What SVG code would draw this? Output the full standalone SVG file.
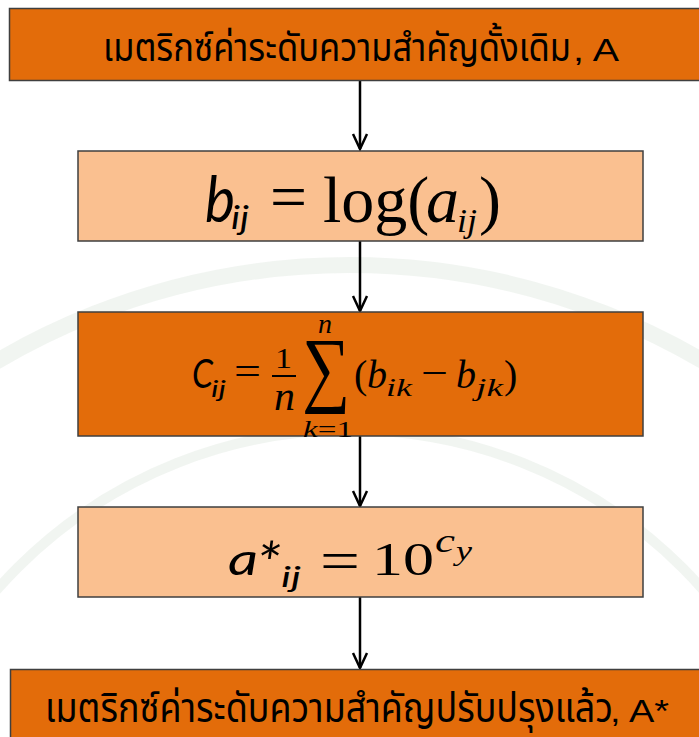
<svg xmlns="http://www.w3.org/2000/svg" width="699" height="737" viewBox="0 0 699 737">
<style>
.dark{fill:#E36C0A;stroke:#3F3F3F;stroke-width:1.5}
.light{fill:#FAC090;stroke:#3F3F3F;stroke-width:1.5}
.thai{font-family:"Noto Sans Thai","Noto Sans","DejaVu Sans",sans-serif;fill:#000}
.lat{font-family:"Liberation Sans",Arial,sans-serif;fill:#000}
.cal{font-family:Lato,"Open Sans",sans-serif;font-style:italic;fill:#000}
.ser{font-family:"Liberation Serif","DejaVu Serif",serif;fill:#000}
.it{font-style:italic}
.wm{fill:none;stroke:#EDF2ED;opacity:0.8}
.conn{stroke:#000;stroke-width:2.5;fill:none}
</style>
<defs>
<marker id="arr" markerUnits="userSpaceOnUse" viewBox="-20 -10 22 20" markerWidth="22" markerHeight="20" refX="0" refY="0" orient="auto">
<path d="M-15,-7 L0,0 L-15,7" fill="none" stroke="#000" stroke-width="2.5"/>
</marker>
</defs>
<rect width="699" height="737" fill="#fff"/>
<g id="watermark">
<circle class="wm" cx="350" cy="960" r="695" stroke-width="16"/>
<circle class="wm" cx="350" cy="900" r="470" stroke-width="10"/>
</g>
<g id="connectors">
<line class="conn" x1="360" y1="80" x2="360" y2="149" marker-end="url(#arr)"/>
<line class="conn" x1="360" y1="241" x2="360" y2="311" marker-end="url(#arr)"/>
<line class="conn" x1="360" y1="435" x2="360" y2="506" marker-end="url(#arr)"/>
<line class="conn" x1="360" y1="597" x2="360" y2="668" marker-end="url(#arr)"/>
</g>
<g id="n1">
<rect class="dark" x="9.5" y="8.5" width="700" height="72"/>
<text class="thai" x="103" y="61" font-size="40" textLength="468" lengthAdjust="spacingAndGlyphs">เมตริกซ์ค่าระดับความสำคัญดั้งเดิม</text>
<text class="lat" x="573" y="61" font-size="31" textLength="46" lengthAdjust="spacingAndGlyphs">, A</text>
</g>
<g id="n2">
<rect class="light" x="78" y="151" width="565" height="90"/>
<text class="cal" x="205" y="222" font-size="64" textLength="30" lengthAdjust="spacingAndGlyphs">b</text>
<text class="cal" x="231" y="229" font-size="32" textLength="18" lengthAdjust="spacingAndGlyphs">ij</text>
<text class="ser" x="270" y="218" font-size="64" textLength="37" lengthAdjust="spacingAndGlyphs">=</text>
<text class="ser" x="323" y="222" font-size="66">log(</text>
<text class="ser it" x="426" y="222" font-size="66">a</text>
<text class="ser it" x="457" y="232" font-size="34" textLength="20" lengthAdjust="spacingAndGlyphs">ij</text>
<text class="ser" x="479" y="222" font-size="66">)</text>
</g>
<g id="n3">
<rect class="dark" x="78" y="312" width="565" height="124"/>
<text class="cal" x="192" y="388" font-size="40" textLength="21" lengthAdjust="spacingAndGlyphs">C</text>
<text class="cal" x="211" y="397" font-size="24" textLength="15" lengthAdjust="spacingAndGlyphs">ij</text>
<text class="ser" x="234" y="385" font-size="40" textLength="27" lengthAdjust="spacingAndGlyphs">=</text>
<text class="ser" x="275" y="368" font-size="30" textLength="17" lengthAdjust="spacingAndGlyphs">1</text>
<line x1="272" y1="376" x2="296" y2="376" stroke="#000" stroke-width="2"/>
<text class="ser it" x="274" y="410" font-size="40" textLength="21" lengthAdjust="spacingAndGlyphs">n</text>
<text class="ser" x="302" y="396" font-size="84" textLength="48" lengthAdjust="spacingAndGlyphs">∑</text>
<text class="ser it" x="318" y="333" font-size="28">n</text>
<text class="ser" x="303" y="437" font-size="24" textLength="50" lengthAdjust="spacingAndGlyphs"><tspan font-style="italic">k</tspan>=1</text>
<text class="ser" x="354" y="388" font-size="40">(</text>
<text class="ser it" x="367" y="388" font-size="40">b</text>
<text class="ser it" x="386" y="396" font-size="26" textLength="26" lengthAdjust="spacingAndGlyphs">ik</text>
<text class="ser" x="421" y="386" font-size="40" textLength="27" lengthAdjust="spacingAndGlyphs">−</text>
<text class="ser it" x="456" y="388" font-size="40">b</text>
<text class="ser it" x="476" y="396" font-size="26" textLength="27" lengthAdjust="spacingAndGlyphs">jk</text>
<text class="ser" x="504" y="388" font-size="40">)</text>
</g>
<g id="n4">
<rect class="light" x="78" y="507" width="565" height="90"/>
<text class="cal" x="228" y="575" font-size="44" textLength="30" lengthAdjust="spacingAndGlyphs">a</text>
<text class="cal" x="256" y="584" font-size="58" textLength="25" lengthAdjust="spacingAndGlyphs">*</text>
<text class="cal" x="281" y="587" font-size="28" textLength="20" lengthAdjust="spacingAndGlyphs">ij</text>
<text class="ser" x="320" y="580" font-size="56" textLength="40" lengthAdjust="spacingAndGlyphs">=</text>
<text class="ser" x="372" y="575" font-size="46" textLength="62" lengthAdjust="spacingAndGlyphs">10</text>
<text class="ser it" x="435" y="552" font-size="34" textLength="20" lengthAdjust="spacingAndGlyphs">c</text>
<text class="ser it" x="456" y="560" font-size="27" textLength="16" lengthAdjust="spacingAndGlyphs">y</text>
</g>
<g id="n5">
<rect class="dark" x="10.5" y="669.5" width="700" height="80"/>
<text class="thai" x="45" y="722" font-size="41" textLength="568" lengthAdjust="spacingAndGlyphs">เมตริกซ์ค่าระดับความสำคัญปรับปรุงแล้ว</text>
<text class="lat" x="610" y="722" font-size="32" textLength="59" lengthAdjust="spacingAndGlyphs">, A*</text>
</g>
</svg>
